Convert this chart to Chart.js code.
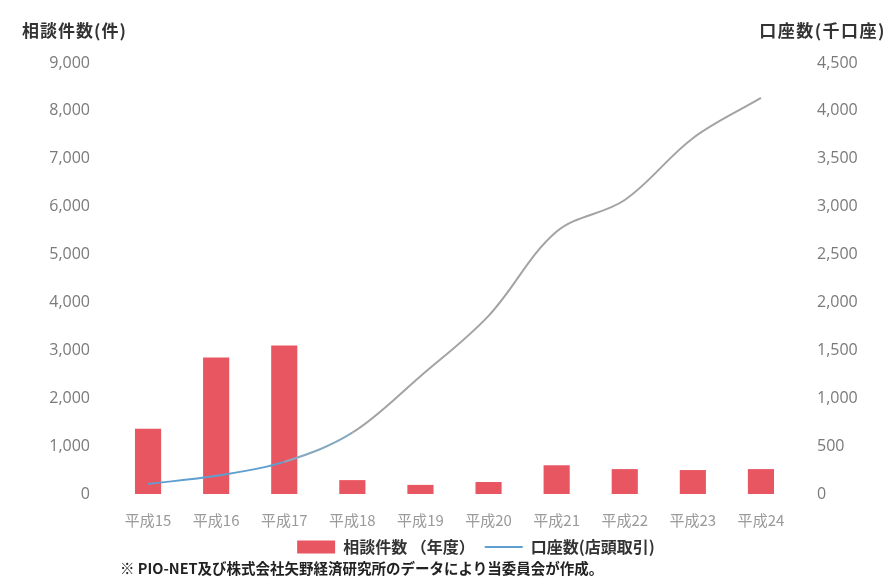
<!DOCTYPE html>
<html lang="ja">
<head>
<meta charset="utf-8">
<script src="https://cdn.jsdelivr.net/npm/chart.js@4"></script>
<style>
  html, body { margin: 0; padding: 0; background: #ffffff; }
  #wrap { position: relative; width: 890px; height: 577px; overflow: hidden; }
  #c { position: absolute; left: 0; top: 0; }
  .lbl { position: absolute; font-family: "Noto Sans CJK JP", "Noto Sans", sans-serif; font-weight: bold; color: #333; white-space: nowrap; }
  #tl { left: 22px; top: 17px; font-size: 17px; letter-spacing: 1px; }
  #tr { right: 4px; top: 17px; font-size: 17px; letter-spacing: 1.5px; }
  #fn { left: 120px; top: 557px; font-size: 14.5px; color: #222; }
</style>
</head>
<body>
<div id="wrap">
  <canvas id="c" width="890" height="577"></canvas>
  <div class="lbl" id="tl">相談件数(件)</div>
  <div class="lbl" id="tr">口座数(千口座)</div>
  <div class="lbl" id="fn">※ PIO-NET及び株式会社矢野経済研究所のデータにより当委員会が作成。</div>
</div>
<script>
// ---- data ----
const categories = ["平成15", "平成16", "平成17", "平成18", "平成19", "平成20", "平成21", "平成22", "平成23", "平成24"];
const consultations = [1360, 2850, 3100, 290, 190, 250, 600, 520, 500, 520];
const accounts = [105, 190, 335, 640, 1230, 1860, 2740, 3070, 3715, 4135];
const barLabel = "相談件数";
const lineLabel = "口座数(店頭取引)";
const yearNote = "（年度）";
const leftTicks = { min: 0, max: 9000, step: 1000 };
const rightTicks = { min: 0, max: 4500, step: 500 };

const blue = "#5f9fcf";
const grey = "#a3a3a3";
const fmt = v => Number(v).toLocaleString("en-US");

// shift the bottom legend so it sits centred where the original one is
const legendShift = {
  id: "legendShift",
  afterLayout(chart) {
    const lg = chart.legend;
    if (lg) { lg.left += 21; lg.right += 21; }
  }
};

new Chart(document.getElementById("c"), {
  data: {
    labels: categories,
    datasets: [
      {
        type: "bar",
        label: barLabel,
        data: consultations,
        backgroundColor: "#e85662",
        borderWidth: 0,
        categoryPercentage: 0.8,
        barPercentage: 0.48,
        yAxisID: "y",
        order: 1,
        pointStyle: "rect"
      },
      {
        type: "line",
        label: lineLabel,
        data: accounts,
        borderColor: blue,
        backgroundColor: blue,
        borderWidth: 2,
        pointRadius: 0,
        pointStyle: "line",
        tension: 0.35,
        yAxisID: "y1",
        order: 0,
        segment: {
          borderColor: ctx => ctx.p0DataIndex < 2 ? blue : (ctx.p0DataIndex === 2 ? "#86a9bf" : grey)
        }
      }
    ]
  },
  plugins: [legendShift],
  options: {
    responsive: false,
    animation: false,
    layout: { padding: { left: 20, right: 0, top: 63, bottom: 12 } },
    plugins: {
      tooltip: { enabled: false },
      legend: {
        position: "bottom",
        labels: {
          color: "#333",
          font: { family: "'Noto Sans CJK JP', sans-serif", size: 16, weight: "bold" },
          usePointStyle: true,
          pointStyleWidth: 38,
          boxHeight: 13,
          padding: 10,
          sort: (a, b) => a.datasetIndex - b.datasetIndex,
          generateLabels(chart) {
            const items = Chart.defaults.plugins.legend.labels.generateLabels(chart);
            items.forEach(it => { if (it.datasetIndex === 0) it.text = barLabel + " " + yearNote; });
            return items;
          }
        }
      }
    },
    scales: {
      x: {
        grid: { display: false, drawTicks: false },
        border: { display: false },
        afterFit: s => { s.height = Math.max(0, s.height - 17); },
        ticks: {
          color: "#9a9a9a",
          padding: 17,
          maxRotation: 0,
          font: { family: "'Noto Sans CJK JP', sans-serif", size: 15 }
        }
      },
      y: {
        position: "left",
        min: leftTicks.min, max: leftTicks.max,
        grid: { display: false, drawTicks: false },
        border: { display: false },
        afterFit: s => { s.width = 94; },
        ticks: {
          stepSize: leftTicks.step,
          padding: 24,
          color: "#7a7a7a",
          font: { family: "'Open Sans', sans-serif", size: 16 },
          callback: v => fmt(v)
        }
      },
      y1: {
        position: "right",
        min: rightTicks.min, max: rightTicks.max,
        grid: { display: false, drawTicks: false },
        border: { display: false },
        afterFit: s => { s.width = 95; },
        ticks: {
          stepSize: rightTicks.step,
          padding: 22,
          color: "#7a7a7a",
          font: { family: "'Open Sans', sans-serif", size: 16 },
          callback: v => fmt(v)
        }
      }
    }
  }
});
</script>
</body>
</html>
